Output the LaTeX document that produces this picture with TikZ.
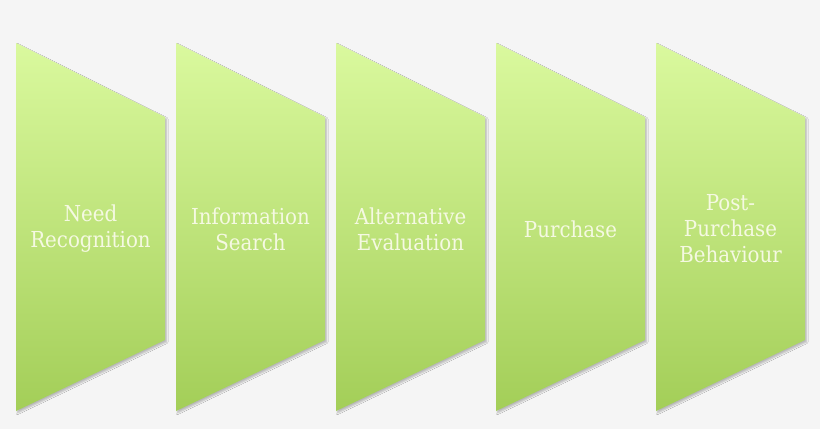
\documentclass[tikz,border=0pt]{standalone}
\usepackage{fontspec}
\setmainfont{DejaVu Serif Condensed}
\usetikzlibrary{shadows.blur}
\definecolor{bg}{HTML}{F5F5F5}
\definecolor{gtop}{HTML}{DAF99E}
\definecolor{gbot}{HTML}{A3CE58}
\definecolor{txt}{HTML}{F5F9E2}
\tikzset{
  stage/.style={top color=gtop, bottom color=gbot, draw=none,
    blur shadow={shadow xshift=1.5pt, shadow yshift=-2pt, shadow blur steps=5, shadow blur radius=1.5pt, shadow opacity=25}},
  label/.style={text=txt, align=center, font=\fontsize{22}{26}\selectfont, inner sep=0pt}
}
\begin{document}
\begin{tikzpicture}[x=1pt,y=-1pt]
\fill[bg] (0,0) rectangle (820,429);
\useasboundingbox (0,0) rectangle (820,429);
\foreach \i/\t [count=\n] in {0/{Need\\Recognition},1/{Information\\Search},2/{Alternative\\Evaluation},3/{Purchase},4/{Post-\\Purchase\\Behaviour}}{
  \pgfmathsetmacro{\x}{16+160*\i}
  \path[stage] (\x,43) -- (\x+149,117) -- (\x+149,340) -- (\x,411) -- cycle;
  \node[label] (s\n) at (\x+74.5,229) {\t};
}
\end{tikzpicture}
\end{document}
